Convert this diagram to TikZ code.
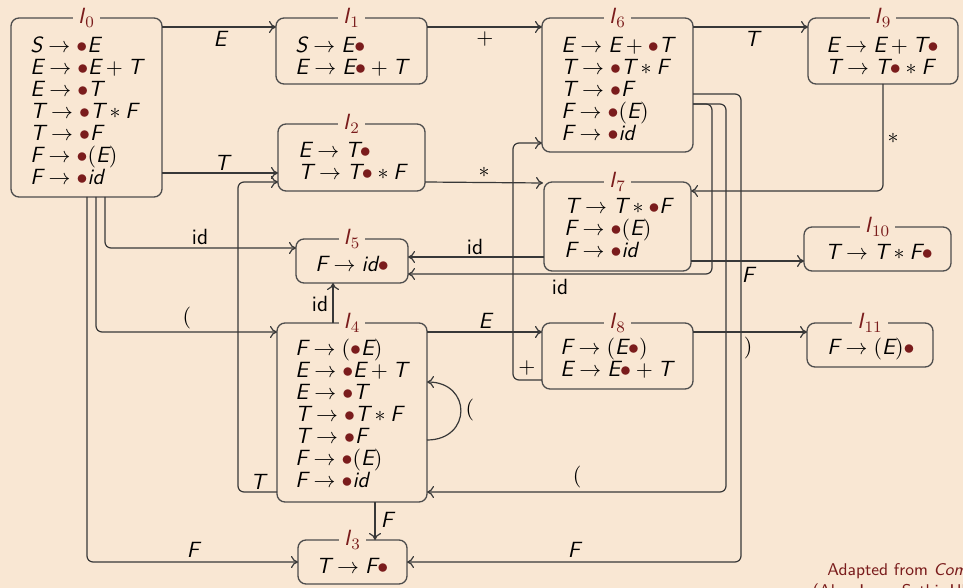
\documentclass[tikz,border=0pt]{standalone}
\usetikzlibrary{arrows.meta,calc}
\definecolor{bg}{HTML}{F9E7D3}
\definecolor{dred}{HTML}{7A1C1C}
\definecolor{boxc}{HTML}{4D4D4D}
\definecolor{edgec}{HTML}{383838}
\newcommand{\mi}[1]{\textit{#1}}
\newcommand{\dt}{\textcolor{dred}{\bullet}}
\newcommand{\Il}[1]{\textit{I}\ensuremath{_{#1}}}
\newcommand{\fs}{\rule{0pt}{8.5pt}}
\begin{document}
\begin{tikzpicture}[x=0.5pt,y=-0.5pt,
  stbox/.style={draw=boxc,line width=0.65pt,rounded corners=4pt,inner sep=0pt,outer sep=0pt},
  ttl/.style={fill=bg,text=dred,inner xsep=2.5pt,inner ysep=0.5pt,font=\fontsize{11}{11}\selectfont\sffamily},
  items/.style={anchor=north west,inner sep=0pt,align=left,font=\fontsize{11}{11}\selectfont\sffamily},
  conn/.style={draw=edgec,line width=0.6pt,rounded corners=3pt,-{To[length=3.5pt,width=6pt]}},
  lab/.style={inner sep=0pt,font=\fontsize{11}{11}\selectfont\sffamily},
  foot/.style={anchor=base west,inner sep=0pt,text=dred,font=\fontsize{8.5}{10}\selectfont\sffamily}
]
\useasboundingbox (0,0) rectangle (963,588);
\clip (0,0) rectangle (963,588);
\fill[bg] (0,0) rectangle (963,588);

% boxes
\node[stbox,minimum width=75.5pt,minimum height=89.5pt] (I0) at (86.5,107.5) {};
\node[stbox,minimum width=75.5pt,minimum height=33pt] (I1) at (351.5,51) {};
\node[stbox,minimum width=73.5pt,minimum height=33.5pt] (I2) at (351.5,157.5) {};
\node[stbox,minimum width=54.5pt,minimum height=22pt] (I3) at (352.5,562) {};
\node[stbox,minimum width=75pt,minimum height=89.5pt] (I4) at (352,412.5) {};
\node[stbox,minimum width=56pt,minimum height=22pt] (I5) at (352,261) {};
\node[stbox,minimum width=75.5pt,minimum height=67pt] (I6) at (617.5,85) {};
\node[stbox,minimum width=73.5pt,minimum height=44.5pt] (I7) at (617.5,226.5) {};
\node[stbox,minimum width=75.5pt,minimum height=33pt] (I8) at (617.5,356) {};
\node[stbox,minimum width=75pt,minimum height=33pt] (I9) at (883,51) {};
\node[stbox,minimum width=73.5pt,minimum height=22pt] (I10) at (877.5,249) {};
\node[stbox,minimum width=63pt,minimum height=22pt] (I11) at (870,345) {};

% connectors
\draw[conn] ($(I0.north east)+(0,9)$) -- ($(I1.north west)+(0,9)$)
  node[lab] (e1) at (220,39) {$\mi{E}$};
\draw[conn] ($(I0.south east)+(0,-24)$) -- ($(I2.south west)+(0,-18)$)
  node[lab] (e2) at (222,163) {$\mi{T}$};
\draw[conn] ($(I1.north east)+(0,9)$) -- ($(I6.north west)+(0,9)$)
  node[lab] (e3) at (485,39) {$+$};
\draw[conn] ($(I2.south east)+(0,-9)$) -- ($(I7.north west)+(-1,1)$)
  node[lab] (e4) at (484,172) {$*$};
\draw[conn] ($(I6.north east)+(0,9)$) -- ($(I9.north west)+(0,9)$)
  node[lab] (e5) at (752,39) {$\mi{T}$};
\draw[conn] (I9.south) |- ($(I7.north east)+(0,9)$)
  node[lab] (e6) at (893,138) {$*$};
\draw[conn] ($(I7.south east)+(0,-10)$) -- ($(I10.south west)+(0,-10)$)
  node[lab] (e7) at (748,275) {$\mi{F}$};
\draw[conn] ($(I8.north east)+(0,9)$) -- ($(I11.north west)+(0,9)$)
  node[lab] (e8) at (748,348) {$)$};
\draw[conn] ($(I4.north east)+(0,9)$) -- ($(I8.north west)+(0,9)$)
  node[lab] (e9) at (485,321) {$\mi{E}$};
\draw[conn] ($(I8.south west)+(0,-9)$) -| (513,143) -- ($(I6.north west)+(0,125)$)
  node[lab] (e10) at (527,368) {$+$};
\draw[conn] ($(I7.south west)+(0,-14)$) -- ($(I5.north east)+(0,18)$)
  node[lab] (e11) at (475,247) {id};
\draw[conn] ($(I6.north east)+(0,86)$) -| (712,274) -- ($(I5.south east)+(0,-9)$)
  node[lab] (e12) at (560,287) {id};
\draw[conn] ($(I6.north east)+(0,86)$) -| (726,492) -- ($(I4.south east)+(0,-10)$)
  node[lab] (e13) at (577,477) {$($};
\draw[conn] ($(I6.north east)+(0,76)$) -| (741,562) -- (I3.east)
  node[lab] (e14) at (574,550) {$\mi{F}$};
\draw[conn] ($(I0.south west)+(94,0)$) |- ($(I5.north west)+(0,9)$)
  node[lab] (e15) at (200,237) {id};
\draw[conn] ($(I0.south west)+(85,0)$) |- ($(I4.north west)+(0,9)$)
  node[lab] (e16) at (187,318) {$($};
\draw[conn] ($(I0.south west)+(76,0)$) |- (I3.west)
  node[lab] (e17) at (193,550) {$\mi{F}$};
\draw[conn] ($(I4.south west)+(0,-10)$) -| (238,182) -- ($(I2.south west)+(0,-9)$)
  node[lab] (e18) at (258,482) {$\mi{T}$};
\draw[conn] ($(I4.north west)+(56,0)$) -- ($(I5.south west)+(37,0)$)
  node[lab] (e19) at (320,304) {id};
\draw[conn] ($(I4.south west)+(98,0)$) -- ($(I3.north west)+(77,0)$)
  node[lab] (e20) at (387,520) {$\mi{F}$};
\draw[conn] ($(I4.north east)+(0,117)$) .. controls +(45,0) and +(45,0) .. ($(I4.north east)+(0,59)$)
  node[lab] (e21) at (470,410) {$($};

% titles
\node[ttl] (L0) at (I0.north) {\Il{0}};
\node[ttl] (L1) at (I1.north) {\Il{1}};
\node[ttl] (L2) at (I2.north) {\Il{2}};
\node[ttl] (L3) at (I3.north) {\Il{3}};
\node[ttl] (L4) at (I4.north) {\Il{4}};
\node[ttl] (L5) at (I5.north) {\Il{5}};
\node[ttl] (L6) at (I6.north) {\Il{6}};
\node[ttl] (L7) at (I7.north) {\Il{7}};
\node[ttl] (L8) at (I8.north) {\Il{8}};
\node[ttl] (L9) at (I9.north) {\Il{9}};
\node[ttl] (L10) at (I10.north) {\Il{10}};
\node[ttl] (L11) at (I11.north) {\Il{11}};

% item sets
\node[items] (T0) at (30,35) {\fs$\mi{S}\rightarrow\dt\mi{E}$\\
$\mi{E}\rightarrow\dt\mi{E}+\mi{T}$\\
$\mi{E}\rightarrow\dt\mi{T}$\\
$\mi{T}\rightarrow\dt\mi{T}*\mi{F}$\\
$\mi{T}\rightarrow\dt\mi{F}$\\
$\mi{F}\rightarrow\dt(\mi{E})$\\
$\mi{F}\rightarrow\dt\mi{id}$};
\node[items] (T1) at (295,35) {\fs$\mi{S}\rightarrow\mi{E}\dt$\\
$\mi{E}\rightarrow\mi{E}\dt+\mi{T}$};
\node[items] (T2) at (298,140) {\fs$\mi{E}\rightarrow\mi{T}\dt$\\
$\mi{T}\rightarrow\mi{T}\dt*\mi{F}$};
\node[items] (T3) at (316,556) {\fs$\mi{T}\rightarrow\mi{F}\dt$};
\node[items] (T4) at (295,338) {\fs$\mi{F}\rightarrow(\dt\mi{E})$\\
$\mi{E}\rightarrow\dt\mi{E}+\mi{T}$\\
$\mi{E}\rightarrow\dt\mi{T}$\\
$\mi{T}\rightarrow\dt\mi{T}*\mi{F}$\\
$\mi{T}\rightarrow\dt\mi{F}$\\
$\mi{F}\rightarrow\dt(\mi{E})$\\
$\mi{F}\rightarrow\dt\mi{id}$};
\node[items] (T5) at (315,254) {\fs$\mi{F}\rightarrow\mi{id}\dt$};
\node[items] (T6) at (561,35) {\fs$\mi{E}\rightarrow\mi{E}+\dt\mi{T}$\\
$\mi{T}\rightarrow\dt\mi{T}*\mi{F}$\\
$\mi{T}\rightarrow\dt\mi{F}$\\
$\mi{F}\rightarrow\dt(\mi{E})$\\
$\mi{F}\rightarrow\dt\mi{id}$};
\node[items] (T7) at (564,196) {\fs$\mi{T}\rightarrow\mi{T}*\dt\mi{F}$\\
$\mi{F}\rightarrow\dt(\mi{E})$\\
$\mi{F}\rightarrow\dt\mi{id}$};
\node[items] (T8) at (560,337) {\fs$\mi{F}\rightarrow(\mi{E}\dt)$\\
$\mi{E}\rightarrow\mi{E}\dt+\mi{T}$};
\node[items] (T9) at (826,35) {\fs$\mi{E}\rightarrow\mi{E}+\mi{T}\dt$\\
$\mi{T}\rightarrow\mi{T}\dt*\mi{F}$};
\node[items] (T10) at (825,242) {\fs$\mi{T}\rightarrow\mi{T}*\mi{F}\dt$};
\node[items] (T11) at (827,337) {\fs$\mi{F}\rightarrow(\mi{E})\dt$};

% footer
\node[foot] (ft1) at (827,575) {Adapted from \textit{Com}};
\node[foot] (ft2) at (812,596) {(Aho, Lam, Sethi, Ull};
\end{tikzpicture}
\end{document}
